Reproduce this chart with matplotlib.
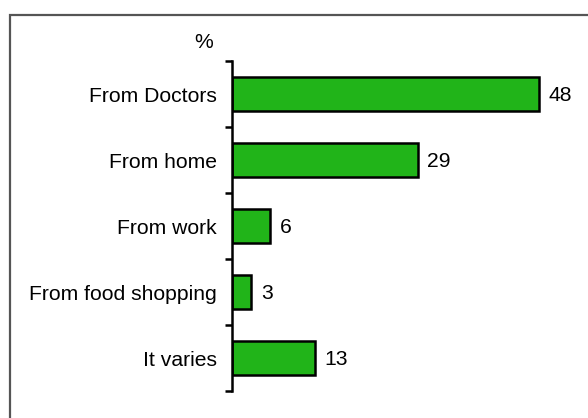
import matplotlib

matplotlib.use("Agg")
import matplotlib.pyplot as plt
from matplotlib.patches import Rectangle

plt.rcParams["font.family"] = ["Liberation Sans", "DejaVu Sans"]

categories = ["From Doctors", "From home", "From work", "From food shopping", "It varies"]
values = [48, 29, 6, 3, 13]

W, H = 588, 418
fig = plt.figure(figsize=(W / 100, H / 100), dpi=100)

# frame around the chart: only top and left edges fall inside the image
fig.patches.append(Rectangle((9.5 / W, -0.1), 1, 1.1 - 15 / H, transform=fig.transFigure,
                             fill=False, edgecolor="#555555", linewidth=1.6))

left, right = 232 / W, (232 + 320) / W
top, bottom = 1 - 61 / H, 1 - 391 / H
ax = fig.add_axes([left, bottom, right - left, top - bottom])

fs = 15.2
pos = list(range(len(categories)))
ax.barh(pos, values, height=0.53, color="#21b419", edgecolor="black", linewidth=1.8)
for p, v in zip(pos, values):
    ax.text(v + 1.5, p + 0.03, f"{v}", va="center", ha="left", fontsize=fs, clip_on=False)

ax.set_xlim(0, 50)
ax.set_ylim(len(categories) - 0.5, -0.5)
ax.set_yticks([p + 0.5 for p in [-1] + pos])
ax.set_yticklabels([])
ax.set_yticks(pos, minor=True)
ax.set_yticklabels(categories, minor=True, fontsize=fs)
ax.tick_params(axis="y", which="major", length=5, width=1.8, direction="out")
ax.tick_params(axis="y", which="minor", length=0, pad=11)
ax.set_xticks([])
for side in ("top", "right", "bottom"):
    ax.spines[side].set_visible(False)
ax.spines["left"].set_linewidth(1.8)

fig.text(204 / W, 1 - 42 / H, "%", ha="center", va="center", fontsize=fs)

fig.savefig("out.png", dpi=100)
plt.close(fig)
